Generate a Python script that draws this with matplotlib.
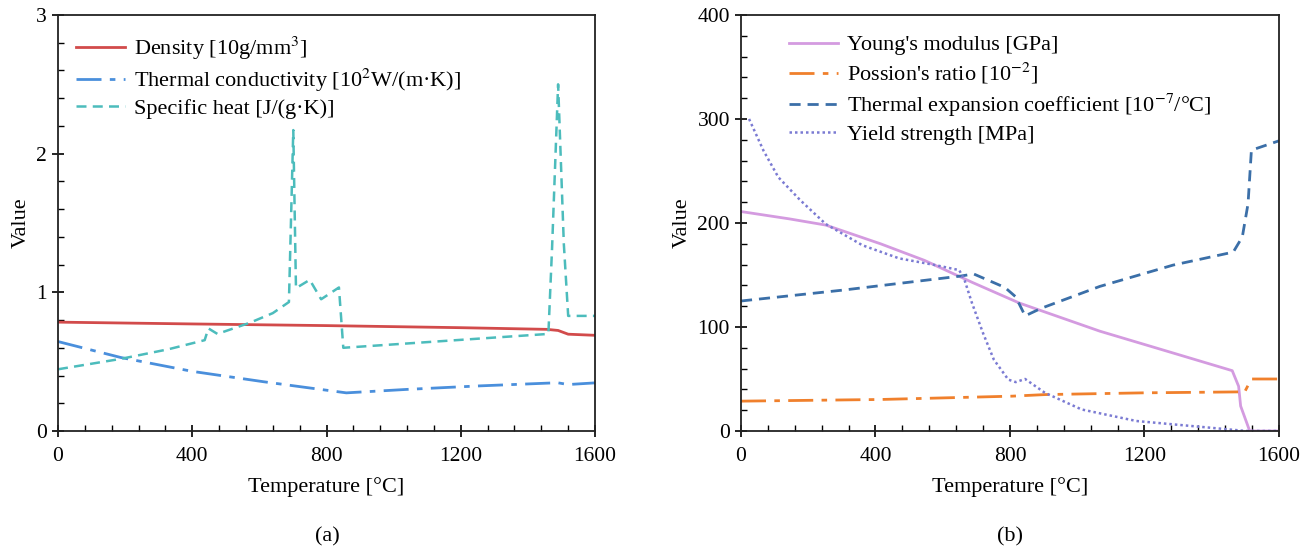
import matplotlib
matplotlib.use("Agg")
import matplotlib.pyplot as plt
from matplotlib.ticker import MultipleLocator

plt.rcParams['font.family'] = ['Liberation Serif', 'DejaVu Serif']
plt.rcParams['mathtext.fontset'] = 'stix'

# (a) thermal properties vs temperature
dens_t = [0, 400, 800, 1200, 1456, 1490, 1520, 1600]
dens_v = [0.785, 0.772, 0.760, 0.745, 0.733, 0.725, 0.698, 0.690]

cond_t = [0, 187, 400, 613, 720, 859, 1040, 1253, 1488, 1520, 1600]
cond_v = [0.645, 0.53, 0.43, 0.355, 0.32, 0.275, 0.300, 0.325, 0.348, 0.335, 0.347]

heat_t = [0, 187, 330, 437, 448, 475, 571, 640, 688, 701, 709, 750, 784,
          837, 850, 1461, 1472, 1490, 1507, 1520, 1600]
heat_v = [0.445, 0.52, 0.59, 0.655, 0.74, 0.70, 0.78, 0.85, 0.93, 2.17, 1.03,
          1.09, 0.95, 1.035, 0.60, 0.70, 1.32, 2.50, 1.35, 0.83, 0.83]

# (b) mechanical properties vs temperature
young_t = [0, 143, 252, 415, 546, 687, 828, 1067, 1285, 1461, 1480, 1486, 1513, 1600]
young_v = [211, 204, 198, 180, 164, 143, 123, 96, 75, 58, 43, 24, 0, 0]

pois_t = [0, 415, 807, 904, 1200, 1480, 1497, 1518, 1600]
pois_v = [28.7, 30.3, 33.5, 35.0, 36.7, 37.6, 37.0, 50.0, 50.0]

expn_t = [0, 307, 654, 692, 785, 817, 845, 893, 1067, 1285, 1464, 1491, 1508, 1518, 1600]
expn_v = [125, 135.6, 149, 151, 138, 129, 110.7, 118, 139, 159.5, 172, 186.6, 218.5, 270, 279]

yield_t = [24, 67, 111, 176, 252, 361, 470, 578, 649, 665, 687, 720, 752, 795,
           817, 845, 904, 1013, 1176, 1394, 1502, 1600]
yield_v = [300, 269.5, 244, 222, 199, 178.6, 166, 159.5, 154.7, 145, 123, 94,
           68.6, 49.4, 47, 50, 36.7, 20.7, 9.6, 3.2, 0, 0]

fig = plt.figure(figsize=(13.15, 5.51), dpi=100)
ax1 = fig.add_axes([0.0441, 0.2178, 0.4084, 0.755])
ax2 = fig.add_axes([0.5635, 0.2178, 0.4091, 0.755])

ax1.plot(dens_t, dens_v, color='#d24b4b', lw=2.0, label='Density [10g/mm$^3$]')
ax1.plot(cond_t, cond_v, color='#4a8fdc', lw=2.0, dashes=(9, 3, 2, 3),
         label='Thermal conductivity [10$^2$W/(m·K)]')
ax1.plot(heat_t, heat_v, color='#4cbcbc', lw=1.8, dashes=(4, 2.5),
         label='Specific heat [J/(g·K)]')

ax2.plot(young_t, young_v, color='#d49be0', lw=2.0, label="Young's modulus [GPa]")
ax2.plot(pois_t, pois_v, color='#f0802c', lw=2.0, dashes=(9, 3, 2, 3),
         label="Possion's ratio [10$^{-2}$]")
ax2.plot(expn_t, expn_v, color='#3b6fa8', lw=2.0, dashes=(4, 2.5),
         label='Thermal expansion coefficient [10$^{-7}$/°C]')
ax2.plot(yield_t, yield_v, color='#7b7bd3', lw=1.8, dashes=(1, 1.2),
         label='Yield strength [MPa]')

for ax, ymax, ymaj, ymin, lx, ls in [(ax1, 3, 1, 0.2, 0.0, 0.2),
                                     (ax2, 400, 100, 20, 0.057, 0.25)]:
    ax.set_xlim(0, 1600)
    ax.set_ylim(0, ymax)
    ax.xaxis.set_major_locator(MultipleLocator(400))
    ax.xaxis.set_minor_locator(MultipleLocator(80))
    ax.yaxis.set_major_locator(MultipleLocator(ymaj))
    ax.yaxis.set_minor_locator(MultipleLocator(ymin))
    ax.tick_params(which='major', direction='inout', length=9, width=1.2,
                   labelsize=15.5, top=False, right=False)
    ax.tick_params(axis='x', which='major', pad=7)
    ax.tick_params(which='minor', direction='in', length=4, width=1.0,
                   top=False, right=False)
    for s in ax.spines.values():
        s.set_linewidth(1.3)
        s.set_color('#222222')
    ax.set_xlabel('Temperature [°C]', fontsize=16, labelpad=8)
    ax.set_ylabel('Value', fontsize=16, labelpad=4)
    ax.legend(loc='upper left', frameon=False, fontsize=16, handlelength=2.2,
              handletextpad=0.4, labelspacing=ls, borderaxespad=0.4,
              bbox_to_anchor=(lx, 0.995))

fig.text(0.249, 0.018, '(a)', fontsize=16, ha='center')
fig.text(0.768, 0.018, '(b)', fontsize=16, ha='center')

fig.savefig('out.png', dpi=100)
